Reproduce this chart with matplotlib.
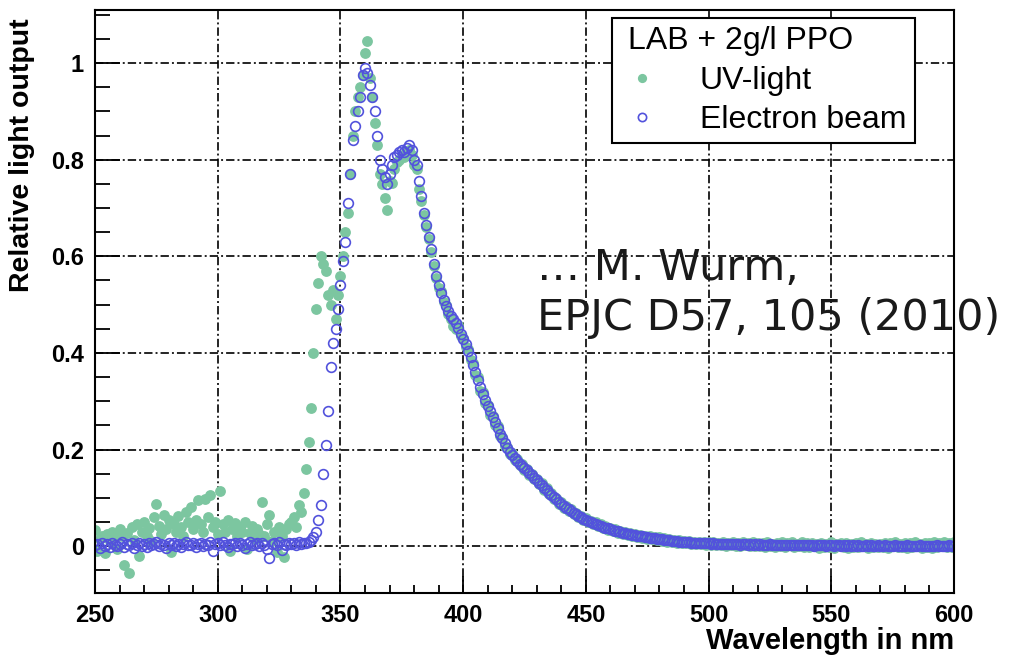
import numpy as np
import matplotlib
matplotlib.use("Agg")
import matplotlib.pyplot as plt
from matplotlib.ticker import MultipleLocator, FuncFormatter

plt.rcParams['font.family'] = ['Liberation Sans', 'DejaVu Sans']
plt.rcParams['lines.scale_dashes'] = False

# wavelength grid, 1 nm steps
wl = np.arange(250, 601)

# UV-light excitation (green filled dots)
uv = [
    0.033, -0.010, 0.015, 0.020, -0.015, 0.025, 0.010, 0.030, 0.018, -0.005,   # 250
    0.035, 0.022, -0.038, 0.028, -0.055, 0.040, 0.012, 0.045, -0.020, 0.030,   # 260
    0.050, 0.020, 0.038, 0.010, 0.060, 0.088, 0.042, 0.025, 0.065, 0.035,      # 270
    0.055, -0.012, 0.045, 0.030, 0.062, 0.040, 0.020, 0.070, 0.050, 0.082,     # 280
    0.035, 0.055, 0.095, 0.045, 0.030, 0.098, 0.060, 0.105, 0.040, 0.050,      # 290
    0.025, 0.115, 0.045, 0.030, 0.055, -0.010, 0.035, 0.048, 0.020, 0.040,     # 300
    0.030, 0.050, -0.005, 0.028, 0.042, 0.015, 0.035, 0.025, 0.092, 0.020,     # 310
    0.045, 0.064, 0.010, 0.030, -0.012, 0.040, 0.020, -0.022, 0.035, 0.045,    # 320
    0.050, 0.060, 0.040, 0.085, 0.070, 0.110, 0.160, 0.215, 0.285, 0.400,      # 330
    0.490, 0.545, 0.600, 0.585, 0.570, 0.520, 0.500, 0.530, 0.470, 0.520,      # 340
    0.560, 0.600, 0.650, 0.690, 0.770, 0.850, 0.900, 0.930, 0.950, 0.975,      # 350
    1.020, 1.045, 0.970, 0.930, 0.876, 0.830, 0.770, 0.750, 0.720, 0.695,      # 360
    0.755, 0.752, 0.780, 0.795, 0.800, 0.810, 0.805, 0.815, 0.820, 0.810,      # 370
    0.790, 0.780, 0.740, 0.715, 0.685, 0.660, 0.635, 0.610, 0.580, 0.555,      # 380
    0.535, 0.528, 0.505, 0.500, 0.480, 0.470, 0.455, 0.450, 0.458, 0.435,      # 390
    0.430, 0.412, 0.408, 0.385, 0.380, 0.355, 0.350, 0.322, 0.320, 0.296,      # 400
    0.292, 0.272, 0.270, 0.250, 0.248, 0.228, 0.226, 0.208, 0.206, 0.190,      # 410
    0.192, 0.178, 0.180, 0.168, 0.170, 0.158, 0.160, 0.148, 0.150, 0.138,      # 420
    0.140, 0.128, 0.130, 0.117, 0.120, 0.107, 0.110, 0.097, 0.100, 0.088,      # 430
    0.091, 0.080, 0.083, 0.072, 0.076, 0.066, 0.069, 0.060, 0.063, 0.054,      # 440
    0.058, 0.050, 0.053, 0.045, 0.049, 0.041, 0.045, 0.037, 0.041, 0.034,      # 450
    0.038, 0.031, 0.035, 0.028, 0.032, 0.025, 0.030, 0.023, 0.028, 0.021,      # 460
    0.026, 0.019, 0.024, 0.017, 0.022, 0.015, 0.020, 0.014, 0.019, 0.012,      # 470
    0.018, 0.011, 0.016, 0.009, 0.015, 0.008, 0.013, 0.007, 0.012, 0.006,      # 480
    0.010, 0.006, 0.010, 0.005, 0.009, 0.004, 0.008, 0.004, 0.008, 0.003,      # 490
    0.008, 0.003, 0.009, 0.002, 0.007, 0.002, 0.008, 0.001, 0.007, 0.002,      # 500
    0.009, 0.001, 0.007, 0.000, 0.008, 0.002, 0.006, 0.000, 0.009, 0.001,      # 510
    0.007, 0.000, 0.006, -0.001, 0.008, 0.001, 0.004, -0.001, 0.006, 0.000,    # 520
    0.008, -0.001, 0.006, 0.003, 0.009, -0.002, 0.005, 0.000, 0.008, -0.001,   # 530
    0.006, -0.002, 0.007, 0.001, 0.005, -0.003, 0.007, -0.001, 0.004, -0.002,  # 540
    0.008, -0.003, 0.005, 0.001, 0.006, -0.002, 0.007, -0.004, 0.005, -0.001,  # 550
    0.006, -0.002, 0.008, 0.000, 0.005, -0.003, 0.007, -0.001, 0.004, -0.002,  # 560
    0.005, -0.001, 0.007, -0.003, 0.006, 0.001, 0.009, -0.001, 0.005, -0.002,  # 570
    0.007, -0.004, 0.006, -0.001, 0.008, 0.000, 0.005, -0.003, 0.007, -0.001,  # 580
    0.006, -0.004, 0.008, -0.002, 0.007, 0.001, 0.009, -0.001, 0.006, -0.002,  # 590
    0.008,                                                                     # 600
]

# electron beam excitation (blue open circles)
eb = [
    0.002, 0.005, -0.003, 0.006, 0.001, 0.004, -0.002, 0.007, 0.003, 0.000,    # 250
    0.005, 0.008, -0.001, 0.004, 0.002, 0.006, -0.003, 0.003, 0.007, 0.001,    # 260
    0.004, -0.002, 0.006, 0.002, 0.005, 0.009, 0.000, 0.004, 0.003, -0.004,    # 270
    0.006, 0.002, 0.007, 0.001, 0.004, -0.001, 0.005, 0.008, 0.002, 0.003,     # 280
    0.006, -0.002, 0.004, 0.007, 0.001, 0.005, 0.003, 0.009, -0.010, 0.004,    # 290
    0.006, 0.002, 0.008, 0.003, -0.001, 0.005, 0.004, 0.007, 0.001, 0.006,     # 300
    0.003, -0.003, 0.005, 0.008, 0.002, 0.004, 0.006, 0.000, 0.007, 0.003,     # 310
    -0.006, -0.024, 0.004, 0.006, 0.002, 0.008, -0.008, 0.005, 0.003, 0.007,   # 320
    0.004, 0.006, 0.002, 0.008, 0.005, 0.007, 0.006, 0.009, 0.012, 0.018,      # 330
    0.030, 0.055, 0.085, 0.150, 0.210, 0.280, 0.370, 0.420, 0.450, 0.490,     # 340
    0.540, 0.590, 0.630, 0.710, 0.770, 0.840, 0.870, 0.900, 0.930, 0.975,     # 350
    0.990, 0.980, 0.955, 0.930, 0.900, 0.850, 0.800, 0.780, 0.765, 0.750,     # 360
    0.770, 0.790, 0.805, 0.810, 0.815, 0.820, 0.815, 0.825, 0.830, 0.820,     # 370
    0.800, 0.790, 0.755, 0.725, 0.690, 0.665, 0.640, 0.615, 0.585, 0.560,     # 380
    0.540, 0.525, 0.510, 0.497, 0.486, 0.477, 0.470, 0.462, 0.452, 0.440,     # 390
    0.428, 0.418, 0.405, 0.392, 0.376, 0.360, 0.345, 0.330, 0.316, 0.302,     # 400
    0.290, 0.279, 0.268, 0.256, 0.244, 0.233, 0.223, 0.213, 0.203, 0.194,     # 410
    0.188, 0.182, 0.177, 0.171, 0.166, 0.161, 0.157, 0.152, 0.147, 0.142,     # 420
    0.137, 0.131, 0.126, 0.121, 0.116, 0.111, 0.106, 0.101, 0.097, 0.092,     # 430
    0.088, 0.084, 0.080, 0.076, 0.073, 0.069, 0.066, 0.063, 0.060, 0.057,     # 440
    0.055, 0.053, 0.050, 0.048, 0.046, 0.044, 0.042, 0.040, 0.038, 0.037,     # 450
    0.035, 0.034, 0.032, 0.031, 0.029, 0.028, 0.027, 0.026, 0.025, 0.024,     # 460
    0.023, 0.022, 0.021, 0.020, 0.019, 0.018, 0.017, 0.017, 0.016, 0.015,     # 470
    0.015, 0.014, 0.013, 0.012, 0.012, 0.011, 0.010, 0.010, 0.009, 0.009,     # 480
    0.008, 0.008, 0.008, 0.007, 0.007, 0.007, 0.006, 0.006, 0.006, 0.006,     # 490
    0.006, 0.005, 0.006, 0.005, 0.005, 0.004, 0.005, 0.004, 0.005, 0.004,     # 500
    0.004, 0.005, 0.004, 0.003, 0.004, 0.004, 0.003, 0.004, 0.003, 0.004,     # 510
    0.003, 0.004, 0.003, 0.002, 0.003, 0.004, 0.003, 0.002, 0.003, 0.003,     # 520
    0.002, 0.003, 0.003, 0.002, 0.003, 0.002, 0.003, 0.002, 0.002, 0.003,     # 530
    0.002, 0.003, 0.002, 0.001, 0.002, 0.003, 0.002, 0.002, 0.001, 0.002,     # 540
    0.002, 0.001, 0.002, 0.002, 0.001, 0.002, 0.001, 0.002, 0.001, 0.002,     # 550
    0.001, 0.002, 0.001, 0.001, 0.002, 0.001, 0.002, 0.001, 0.001, 0.002,     # 560
    0.001, 0.001, 0.002, 0.001, 0.000, 0.001, 0.002, 0.001, 0.001, 0.000,     # 570
    0.001, 0.002, 0.001, 0.000, 0.001, 0.001, 0.002, 0.001, 0.000, 0.001,     # 580
    0.001, 0.000, 0.001, 0.002, 0.001, 0.000, 0.001, 0.001, 0.002, 0.001,     # 590
    0.001,                                                                    # 600
]

GREEN = '#7cc6a0'
BLUE = '#5252dc'

fig = plt.figure(figsize=(10.2, 6.58), dpi=100)
ax = fig.add_axes([95 / 1020, 1 - 593 / 658, 859 / 1020, 583 / 658])

ax.plot(wl, uv, 'o', color=GREEN, ms=7.8, mec=GREEN, mew=0, label='UV-light')
ax.plot(wl, eb, 'o', mfc='none', mec=BLUE, ms=7.0, mew=1.2, label='Electron beam')

ax.set_xlim(250, 600)
ax.set_ylim(-0.097, 1.11)
ax.xaxis.set_major_locator(MultipleLocator(50))
ax.xaxis.set_minor_locator(MultipleLocator(10))
ax.yaxis.set_major_locator(MultipleLocator(0.2))
ax.yaxis.set_minor_locator(MultipleLocator(0.05))
ax.yaxis.set_major_formatter(FuncFormatter(lambda v, p: f'{v:g}' if abs(v) > 1e-9 else '0'))

ax.grid(True, which='major', color='black', lw=1.2, linestyle=(0, (6, 2.2, 1.4, 2.2)))
ax.tick_params(axis='both', which='both', direction='in', top=False, right=False,
               width=1.3, labelsize=17)
ax.tick_params(axis='x', which='major', length=12, pad=8)
ax.tick_params(axis='x', which='minor', length=6)
ax.tick_params(axis='y', which='major', length=18, pad=8)
ax.tick_params(axis='y', which='minor', length=11)
for lab in ax.get_xticklabels() + ax.get_yticklabels():
    lab.set_fontweight('bold')
for sp in ax.spines.values():
    sp.set_linewidth(1.5)

ax.set_xlabel('Wavelength in nm', fontsize=21, fontweight='bold', ha='right', va='center')
ax.xaxis.set_label_coords(1.0, -0.083)
ax.set_ylabel('Relative light output', fontsize=20.5, fontweight='bold', ha='right', va='center')
ax.yaxis.set_label_coords(-0.085, 0.986)

leg = ax.legend(title='LAB + 2g/l PPO', loc='upper left',
                bbox_to_anchor=(0.602, 0.772, 0.353, 0.214), mode='expand',
                borderaxespad=0, fontsize=23, title_fontsize=23, alignment='left',
                frameon=True, fancybox=False, edgecolor='black', framealpha=1,
                handlelength=1.4, handletextpad=1.1, labelspacing=0.3,
                borderpad=0.25, markerscale=0.85)
leg.get_frame().set_linewidth(1.5)
leg.get_title().set_position((8, 0))

fig.text(537 / 1020, 1 - 280 / 658, '\u2026 M. Wurm,', fontsize=31,
         family=['DejaVu Sans'], color='#1a1a1a', va='baseline')
fig.text(537 / 1020, 1 - 330 / 658, 'EPJC D57, 105 (2010)', fontsize=31,
         family=['DejaVu Sans'], color='#1a1a1a', va='baseline')

fig.savefig('out.png', dpi=100)
